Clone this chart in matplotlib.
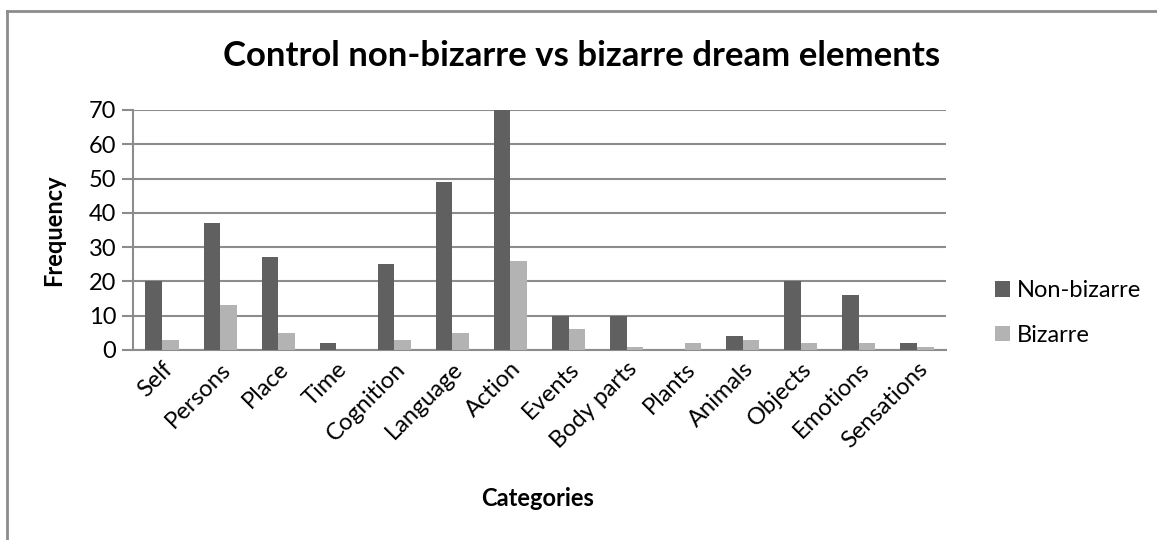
import matplotlib
matplotlib.use("Agg")
import matplotlib.pyplot as plt
import numpy as np
from matplotlib.lines import Line2D

plt.rcParams['font.family'] = ['Lato', 'DejaVu Sans']

categories = ["Self", "Persons", "Place", "Time", "Cognition", "Language", "Action",
              "Events", "Body parts", "Plants", "Animals", "Objects", "Emotions", "Sensations"]
non_bizarre = [20, 37, 27, 2, 25, 49, 70, 10, 10, 0, 4, 20, 16, 2]
bizarre = [3, 13, 5, 0, 3, 5, 26, 6, 1, 2, 3, 2, 2, 1]
yticks = [0, 10, 20, 30, 40, 50, 60, 70]

W, H = 1157, 540
fig = plt.figure(figsize=(W / 100, H / 100), dpi=100)
ax = fig.add_axes([133 / W, 1 - 350 / H, (946 - 133) / W, (350 - 110) / H])

x = np.arange(len(categories))
bw = 1 / 3.5
c_dark = "#606060"
c_light = "#b3b3b3"
ax.bar(x - bw / 2, non_bizarre, bw, color=c_dark, label="Non-bizarre", zorder=3)
ax.bar(x + bw / 2, bizarre, bw, color=c_light, label="Bizarre", zorder=3)

ax.set_xlim(-0.5, len(categories) - 0.5)
ax.set_ylim(0, 70)
ax.set_yticks(yticks)
ax.yaxis.grid(True, color="#8c8c8c", linewidth=1.5, zorder=0)
ax.set_axisbelow(True)
for s in ["top", "right"]:
    ax.spines[s].set_visible(False)
ax.spines["left"].set_color("#8c8c8c")
ax.spines["bottom"].set_color("#8c8c8c")
ax.spines["left"].set_linewidth(1.5)
ax.spines["bottom"].set_linewidth(1.5)
ax.tick_params(axis="y", length=8, width=1.5, color="#8c8c8c", labelsize=17, pad=4)
ax.tick_params(axis="x", length=0, labelsize=17, pad=6)
ax.set_xticks(x)
ax.set_xticklabels(categories, rotation=45, ha="right", rotation_mode="anchor")

fig.text(54 / W, 1 - 230 / H, "Frequency", fontsize=17, fontweight="bold",
         rotation=90, ha="center", va="center")
fig.text(538 / W, 1 - 498 / H, "Categories", fontsize=17, fontweight="bold",
         ha="center", va="center")
fig.text(582 / W, 1 - 56 / H, "Control non-bizarre vs bizarre dream elements",
         fontsize=25, fontweight="bold", ha="center", va="center")

ax.legend(loc="center left", bbox_to_anchor=(983 / W, 1 - 313 / H),
          bbox_transform=fig.transFigure, frameon=False, fontsize=17,
          handlelength=0.65, handleheight=0.65, handletextpad=0.3, labelspacing=1.0,
          borderpad=0)

# outer chart border (left and top)
fig.add_artist(Line2D([6.5 / W, 6.5 / W], [0, 1 - 10.5 / H], transform=fig.transFigure,
                      color="#8c8c8c", linewidth=2))
fig.add_artist(Line2D([6.5 / W, 1], [1 - 10.5 / H, 1 - 10.5 / H], transform=fig.transFigure,
                      color="#8c8c8c", linewidth=2))

fig.savefig("out.png", dpi=100)
